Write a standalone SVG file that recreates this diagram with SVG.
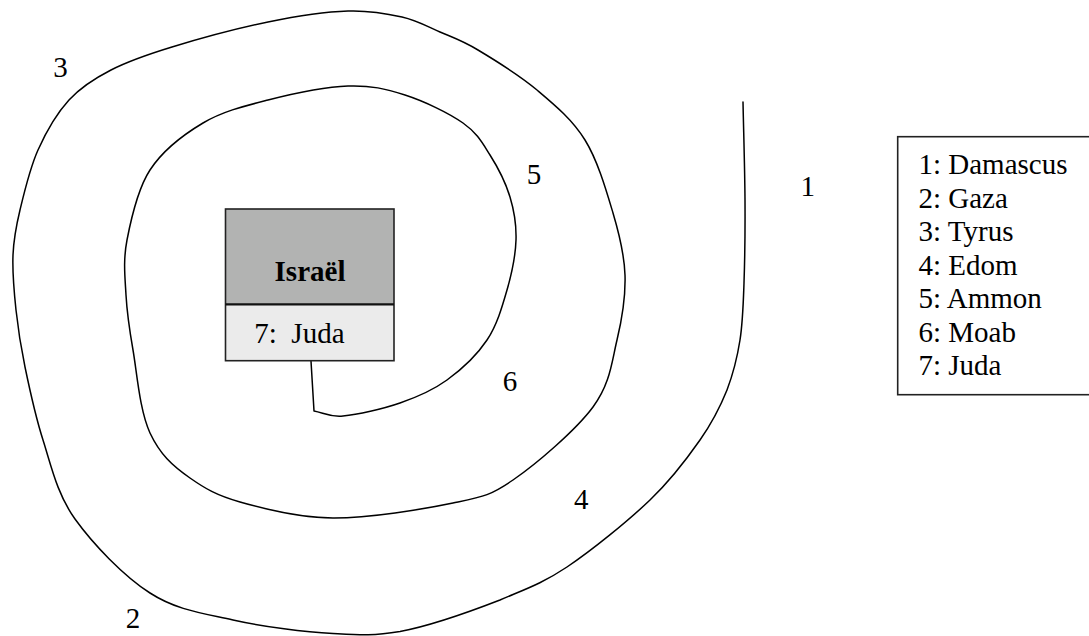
<svg xmlns="http://www.w3.org/2000/svg" width="1089" height="636" viewBox="0 0 1089 636">
<style>
text{font-family:"Liberation Serif","Times New Roman",serif;font-size:29px;fill:#000}
.b{font-weight:bold}
.sp{fill:none;stroke:#000;stroke-width:1.5;stroke-linejoin:round;stroke-linecap:round}
.frame{stroke:#222;stroke-width:1.6}
</style>
<rect width="1089" height="636" fill="#fff"/>
<g id="connectors">
<path class="sp" d="M311 361 L314 411 C323.7 412.7 328.7 417.3 343 416 C357.3 414.7 382.7 409 400 403 C417.3 397 432.5 390.5 447 380 C461.5 369.5 477 355 487 340 C497 325 502.2 306.7 507 290 C511.8 273.3 515.5 255.5 516 240 C516.5 224.5 514.3 211.2 510 197 C505.7 182.8 497.8 167.3 490 155 C482.2 142.7 477.2 133 463 123 C448.8 113 424.2 101.2 405 95 C385.8 88.8 370.8 85.2 348 86 C325.2 86.8 292.2 93.8 268 100 C243.8 106.2 222.7 111.3 203 123 C183.3 134.7 162.7 150.5 150 170 C137.3 189.5 131 219.2 127 240 C123 260.8 125 276.7 126 295 C127 313.3 129 327 133 350 C137 373 139.5 410 150 433 C160 454.2 172 465.5 190 478 C205 488.5 216.2 495.2 240 502 C263.8 508.8 297.5 517.8 333 518 C368.5 518.2 423 509.3 453 503 C483 496.7 489.7 496 513 480 C536.3 464 575.7 430.3 593 407 C610.3 383.7 611.7 362 617 340 C622.3 318 625.7 296.2 625 275 C624.3 253.8 619.7 235.5 613 213 C606.3 190.5 597.7 160.5 585 140 C572.3 119.5 554.8 105 537 90 C519.2 75 494.2 59.7 478 50 C461.8 40.3 452.7 37.5 440 32 C427.3 26.5 417.3 20.5 402 17 C386.7 13.5 370.3 10.2 348 11 C325.7 11.8 297.3 16 268 22 C238.7 28 198.2 39 172 47 C145.8 55 128.2 61.2 111 70 C93.8 78.8 81.2 86.7 69 100 C56.8 113.3 46.2 131.7 38 150 C29.8 168.3 24.2 192.5 20 210 C15.8 227.5 13.7 238.3 13 255 C12.3 271.7 14 291.3 16 310 C18 328.7 20.5 345.3 25 367 C29.5 388.7 35 415 43 440 C51 465 57 494 75 519 C93 544 123.3 575.8 150 593 C176.7 610.2 202.5 613.2 233 620 C263.5 626.8 305.2 632 333 633.5 C360.8 635 372.2 636 400 631.5 C427.8 626.3 472.2 610.8 500 600 C525 589.2 542 583.7 567 567 C592 550.3 627.8 521.2 650 500 C672.2 478.8 687.2 458.3 700 440 C712.8 421.7 720.3 406.7 727 390 C733.7 372.3 737.2 357.8 740 340 C742.8 322.2 743.2 306.3 744 283 C744.8 259.7 745.2 230.2 745 200 C744.8 169.8 743.7 134.7 743 102"/>
</g>
<g id="israel">
<rect x="225.5" y="209" width="168.5" height="95.3" fill="#b2b3b2"/>
<rect x="225.5" y="304.3" width="168.5" height="56.4" fill="#ebebeb"/>
<rect class="frame" x="225.5" y="209" width="168.5" height="151.7" fill="none"/>
<line x1="225.5" y1="304.3" x2="394" y2="304.3" stroke="#111" stroke-width="2.2"/>
<text class="b" x="310" y="280.7" text-anchor="middle">Israël</text>
<text x="254.3" y="342.7" xml:space="preserve">7:  Juda</text>
</g>
<g id="labels">
<text x="800.5" y="196">1</text>
<text x="125.7" y="628">2</text>
<text x="53.3" y="77">3</text>
<text x="574" y="509">4</text>
<text x="526.7" y="184">5</text>
<text x="502.7" y="390.5">6</text>
</g>
<g id="legend">
<rect class="frame" x="897.7" y="136.7" width="200" height="258" fill="#fff"/>
<text x="918.5" y="174.3">1: Damascus</text>
<text x="918.5" y="207.8">2: Gaza</text>
<text x="918.5" y="241.2">3: Tyrus</text>
<text x="918.5" y="274.7">4: Edom</text>
<text x="918.5" y="308.1">5: Ammon</text>
<text x="918.5" y="341.6">6: Moab</text>
<text x="918.5" y="375">7: Juda</text>
</g>
</svg>
